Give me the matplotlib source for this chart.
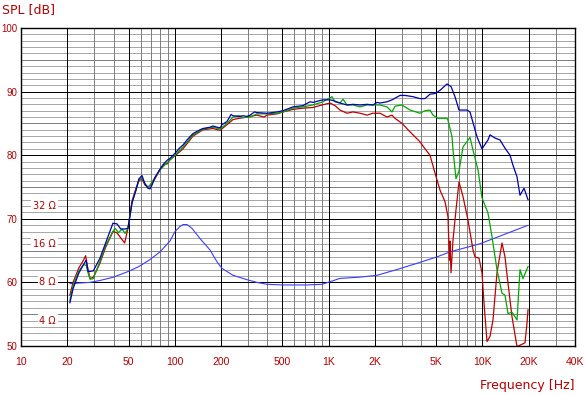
import numpy as np
import matplotlib
matplotlib.use("Agg")
import matplotlib.pyplot as plt
import matplotlib.transforms as mtransforms

# SPL curves (Hz, dB)
blue_f = [20.8, 21.8, 23.8, 25.5, 26.5, 27.3, 29.5, 32.6, 35.5, 39.6, 42.1, 44.5, 47.5, 49.6,
          52.7, 55.9, 58.5, 61.2, 64.0, 66.9, 69.0, 71.1, 74.3, 80.1, 83.8, 89.0, 93.1, 100.3,
          108.1, 113.1, 120, 131.3, 145.8, 152.5, 169.4, 177.2, 188.2, 196.8, 202.8, 218.5, 232,
          239, 261.5, 277.6, 294.8, 308.3, 330, 342, 397.6, 461.8, 505, 586.8, 681.7, 756.8,
          791.6, 879, 919.6, 1021, 1068, 1186, 1317, 1441, 1600, 1777, 1944, 2064, 2159, 2397,
          2584, 2912, 3138, 3538, 3929, 4235, 4563, 4918, 5302, 5887, 6250, 6635, 7045, 7941,
          8305, 8951, 9223, 9940, 10874, 11204, 12073, 13010, 14025, 15117, 15812, 16788, 17560,
          18644, 19800]
blue_db = [56.8, 59.0, 61.5, 62.8, 63.5, 61.7, 61.8, 63.8, 66.2, 69.3, 69.2, 68.4, 68.4, 68.5,
           72.5, 74.5, 76.3, 76.8, 75.5, 74.8, 74.7, 75.3, 76.5, 77.8, 78.5, 79.2, 79.5, 80.3,
           81.2, 81.6, 82.4, 83.4, 84.0, 84.2, 84.4, 84.6, 84.4, 84.3, 84.8, 85.3, 86.4,
           86.2, 86.1, 86.2, 86.1, 86.3, 86.8, 86.7, 86.6, 86.8, 87.0, 87.6, 87.8, 88.4,
           88.3, 88.6, 88.7, 88.7, 88.6, 88.2, 87.9, 88.0, 87.9, 88.0, 87.9, 88.3, 88.2, 88.4,
           88.7, 89.4, 89.4, 89.2, 88.9, 88.9, 89.6, 89.7, 90.2, 91.2, 90.8, 89.2, 87.1, 87.1,
           86.8, 84.0, 82.9, 81.0, 82.4, 83.2, 82.7, 82.4, 81.1, 80.0, 78.4, 76.6, 73.7,
           74.8, 73.0]

green_f = [20.8, 21.8, 23.8, 25.5, 26.5, 27.3, 28.1, 29.5, 32.6, 35.5, 39.6, 41, 43, 45.4, 47.5,
           49.6, 52.7, 55.9, 58.5, 61.2, 64.0, 66.9, 69.0, 74.3, 80.1, 89.0, 100.3, 113.1, 131.3,
           152.5, 177.2, 196.8, 218.5, 239, 261.5, 277.6, 294.8, 308.3, 342, 397.6, 461.8, 505,
           586.8, 681.7, 791.6, 919.6, 1052, 1100, 1186, 1241, 1317, 1441, 1600, 1777, 1944, 2159,
           2397, 2584, 2702, 3001, 3383, 3929, 4235, 4563, 4773, 5145, 5887, 5975, 6344, 6440,
           6735, 7045, 7479, 8305, 8688, 9362, 9940, 10874, 11544, 12440, 13410, 14025, 14669,
           15577, 16788, 17560, 18366, 19800]
green_db = [57.2, 59.5, 61.8, 62.8, 62.7, 61.5, 60.5, 60.6, 63.3, 65.8, 68.0, 68.5, 67.8, 68.4, 67.7,
            68.5, 72.5, 74.5, 76.2, 76.4, 75.5, 75.0, 75.3, 76.5, 77.7, 78.8, 80.0, 81.3, 83.2,
            84.1, 84.4, 84.1, 85.0, 86.0, 86.2, 85.9, 86.0, 86.0, 86.5, 86.5, 86.6, 86.8,
            87.4, 87.6, 87.9, 88.4, 89.2, 88.4, 88.2, 88.8, 87.9, 87.9, 87.6, 87.9, 87.9, 87.9,
            87.6, 86.8, 87.7, 87.9, 87.1, 86.6, 87.0, 87.1, 86.3, 85.8, 85.8, 85.5, 82.9, 80.8,
            76.3, 77.5, 81.3, 82.8, 80.8, 77.7, 73.3, 70.9, 67.2, 62.0, 58.3, 58.0, 55.1,
            55.3, 54.1, 62.0, 60.6, 62.5]

red_f = [20.8, 21.8, 23.8, 25.5, 26.3, 27.3, 28.1, 29.5, 32.6, 35.5, 39.6, 42.1, 44.5, 47.2, 49.6,
         52.7, 55.9, 58.5, 61.2, 64, 66.9, 69, 74.3, 80.1, 85, 89, 93.1, 100.3, 113.1, 131.3,
         152.5, 177.2, 196.8, 218.5, 239, 261.5, 294.8, 342, 380, 397.6, 461.8, 505, 586.8,
         681.7, 791.6, 905, 1021, 1100, 1186, 1317, 1441, 1600, 1777, 1944, 2159, 2397, 2584,
         2702, 3001, 3283, 3538, 3929, 4235, 4563, 4918, 5302, 5712, 5975, 6100, 6157, 6250,
         6440, 6735, 7045, 7479, 8061, 8688, 8951, 9503, 9940, 10240, 10712, 11204, 11718,
         12440, 13410, 14025, 14669, 15577, 16788, 18923, 19498, 19800]
red_db = [58.0, 60.0, 62.3, 63.5, 64.2, 62.0, 60.6, 60.8, 63.0, 65.5, 68.0, 67.8, 67.0, 66.2, 68.5,
          72.8, 74.8, 76.0, 76.2, 75.3, 75.0, 75.2, 76.3, 77.7, 78.6, 78.6, 79.3, 79.9, 81.0, 83.0,
          84.0, 84.2, 83.9, 84.8, 85.6, 85.8, 86.0, 86.3, 86.0, 86.3, 86.5, 86.8, 87.2,
          87.4, 87.5, 87.9, 88.2, 87.8, 87.1, 86.6, 86.8, 86.6, 86.3, 86.6, 86.6, 86.0, 86.3,
          85.8, 85.0, 84.0, 83.2, 82.1, 81.0, 80.0, 77.2, 74.5, 72.7, 70.3, 63.5, 66.5, 61.5,
          66.7, 71.4, 75.8, 73.5, 69.8, 65.1, 64.0, 63.8, 61.5, 56.8, 50.7, 51.5, 54.1,
          61.5, 66.2, 64.0, 59.9, 54.6, 49.9, 50.5, 53.6, 55.7]

# impedance (Hz, ohm)
imp_f = [20.8, 24, 28, 32.6, 39.6, 49.6, 58.5, 69, 80.1, 93, 100.3, 108, 113.1, 120, 129.3, 145.8,
         169.4, 188.2, 202.8, 239, 294.8, 342, 397.6, 505, 723, 905, 1021, 1186, 1600, 2064,
         2785, 3756, 5069, 6157, 9647, 19800]
imp_ohm = [7.82, 7.91, 8.0, 8.28, 8.77, 9.73, 10.67, 12.1, 13.9, 16.9, 20.1, 22.0, 22.8, 22.8, 21.3,
           17.7, 14.4, 11.6, 10.3, 9.1, 8.4, 8.0, 7.73, 7.64, 7.64, 7.73, 8.1, 8.6, 8.8, 9.1,
           10.1, 11.3, 12.7, 13.9, 16.1, 22.5]

x_major = [10, 20, 50, 100, 200, 500, 1000, 2000, 5000, 10000, 20000, 40000]
x_labels = ["10", "20", "50", "100", "200", "500", "1K", "2K", "5K", "10K", "20K", "40K"]
ohm_marks = [4, 8, 16, 32]

RED = "#b40000"
TICK_FONT = ["Liberation Sans", "DejaVu Sans"]

def ohm_to_db(z):
    return 60 + 20 * np.log10(np.asarray(z) / 8.0)

fig = plt.figure(figsize=(5.85, 3.95), dpi=100)
ax = fig.add_axes([21 / 585, 49 / 395, 554 / 585, 318 / 395])
ax.set_xscale("log")
ax.set_xlim(10, 40000)
ax.set_ylim(50, 100)

# grid
GW = 0.5
for dec in [10, 100, 1000, 10000]:
    for m in [3, 4, 6, 7, 8, 9]:
        f = dec * m
        if f < 40000:
            ax.axvline(f, color="#808080", lw=GW, antialiased=False, zorder=1)
for f in x_major:
    ax.axvline(f, color="black", lw=GW, antialiased=False, zorder=2)
for v in range(51, 100):
    if v % 10 == 0:
        ax.axhline(v, color="black", lw=GW, antialiased=False, zorder=2)
    elif v % 5 == 0:
        ax.axhline(v, color="#808080", lw=GW, antialiased=False, zorder=1)
    else:
        ax.axhline(v, color="#a8a8a8", lw=GW, antialiased=False, zorder=0.5)

ax.plot(imp_f, ohm_to_db(imp_ohm), color="#3c3cff", lw=0.8, zorder=3)
ax.plot(red_f, red_db, color="#c00000", lw=0.9, zorder=4)
ax.plot(green_f, green_db, color="#00a800", lw=0.9, zorder=5)
ax.plot(blue_f, blue_db, color="#0000b4", lw=0.9, zorder=6)

# impedance scale labels
trans = mtransforms.blended_transform_factory(ax.transAxes, ax.transData)
for z in ohm_marks:
    ax.text(0.063, ohm_to_db(z), f"{z} Ω", transform=trans, ha="right", va="center",
            fontsize=7, color=RED, zorder=7,
            bbox=dict(facecolor="white", edgecolor="none", pad=1.2))

ax.set_xticks(x_major)
ax.set_xticklabels(x_labels)
ax.xaxis.set_minor_locator(matplotlib.ticker.NullLocator())
ax.set_yticks([50, 60, 70, 80, 90, 100])
ax.tick_params(length=0, labelcolor=RED)
ax.tick_params(axis="x", pad=8, labelsize=7.5)
ax.tick_params(axis="y", pad=2.5, labelsize=7)
for lab in ax.get_xticklabels() + ax.get_yticklabels():
    lab.set_family(TICK_FONT)
for s in ax.spines.values():
    s.set_color("black")
    s.set_linewidth(1.0)
    s.set_zorder(8)

fig.text(0.004, 1 - 10 / 395, "SPL [dB]", color=RED, fontsize=9, ha="left", va="center")
fig.text(575 / 585, 1 - 386 / 395, "Frequency [Hz]", color=RED, fontsize=9, ha="right", va="center")

fig.savefig("out.png", dpi=100)
